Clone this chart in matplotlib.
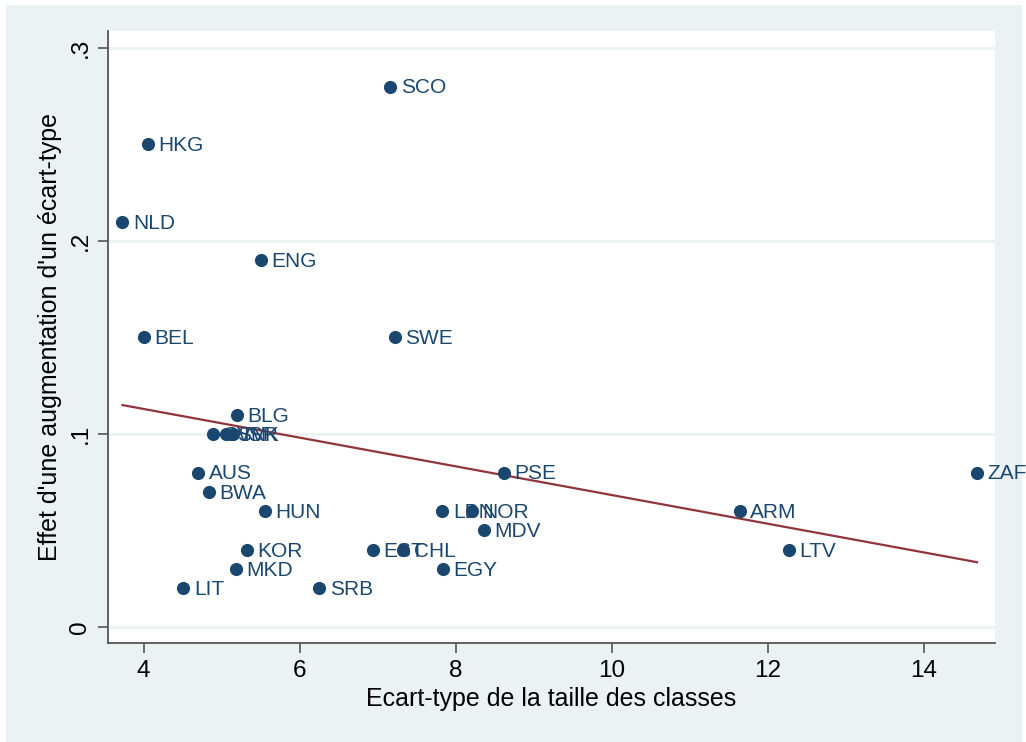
import numpy as np
import matplotlib.pyplot as plt
from matplotlib.patches import Rectangle

# --- Données ---
pays = ["SCO", "HKG", "NLD", "ENG", "BEL", "SWE", "BLG",
        "SVN", "SVK", "ISR", "AUS", "PSE", "ZAF", "BWA",
        "HUN", "LBN", "NOR", "ARM", "MDV", "KOR", "EST",
        "CHL", "LTV", "MKD", "EGY", "LIT", "SRB"]
ecart_type = [7.16, 4.06, 3.73, 5.50, 4.01, 7.22, 5.20,
              4.89, 5.06, 5.14, 4.70, 8.62, 14.68, 4.84,
              5.55, 7.83, 8.21, 11.64, 8.36, 5.32, 6.94,
              7.33, 12.27, 5.18, 7.84, 4.51, 6.25]
effet = [0.28, 0.25, 0.21, 0.19, 0.15, 0.15, 0.11,
         0.10, 0.10, 0.10, 0.08, 0.08, 0.08, 0.07,
         0.06, 0.06, 0.06, 0.06, 0.05, 0.04, 0.04,
         0.04, 0.04, 0.03, 0.03, 0.02, 0.02]

xticks = [4, 6, 8, 10, 12, 14]
yticks = [0, 0.1, 0.2, 0.3]
ytick_labels = ["0", ".1", ".2", ".3"]

fond = "#EAF2F3"
bleu = "#1A476F"
rouge = "#90353B"

plt.rcParams['font.family'] = ['Liberation Sans', 'DejaVu Sans']

fig = plt.figure(figsize=(10.26, 7.42), dpi=100, facecolor="white")
# fond gris-bleu avec une fine marge blanche (style Stata)
fig.patches.append(Rectangle((6 / 1026, -0.02), 1016 / 1026, 0.02 + 737 / 742,
                             transform=fig.transFigure, facecolor=fond,
                             edgecolor="none", zorder=-10))

ax = fig.add_axes([0.1053, 0.1334, 0.8645, 0.8248])
ax.set_facecolor("white")

x = np.array(ecart_type)
y = np.array(effet)

# grille horizontale
for t in yticks:
    ax.axhline(t, color=fond, lw=2, zorder=0)

ax.scatter(x, y, s=90, color=bleu, zorder=3, linewidths=0)
for p, xi, yi in zip(pays, x, y):
    ax.annotate(p, (xi, yi), xytext=(7.5, -1), textcoords="offset points",
                va="center", ha="left", fontsize=15, color=bleu,
                annotation_clip=False, zorder=4)

# droite de régression
pente, const = np.polyfit(x, y, 1)
xs = np.array([x.min(), x.max()])
ax.plot(xs, const + pente * xs, color=rouge, lw=1.6, zorder=2)

ax.set_xlim(3.545, 14.91)
ax.set_ylim(-0.0083, 0.3088)
ax.set_xticks(xticks)
ax.set_xticklabels([str(t) for t in xticks])
ax.set_yticks(yticks)
ax.set_yticklabels(ytick_labels, rotation=90, va="center")

for s in ["top", "right"]:
    ax.spines[s].set_visible(False)
for s in ["left", "bottom"]:
    ax.spines[s].set_color("#555555")
    ax.spines[s].set_linewidth(1.3)
ax.tick_params(direction="out", length=7, width=1.2, color="#555555",
               labelsize=17.5, pad=5)

ax.set_xlabel("Ecart-type de la taille des classes", fontsize=18, labelpad=4)
ax.set_ylabel("Effet d'une augmentation d'un écart-type", fontsize=18, labelpad=5)

fig.savefig("out.png", dpi=100, facecolor="white")
